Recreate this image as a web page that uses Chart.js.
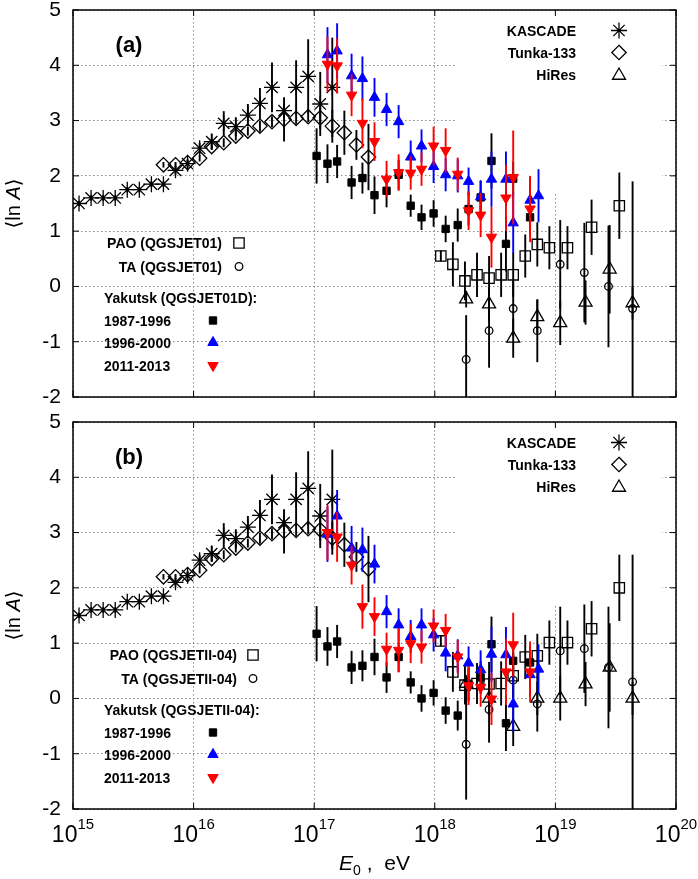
<!DOCTYPE html>
<html>
<head>
<meta charset="utf-8">
<script src="https://cdn.jsdelivr.net/npm/chart.js@4.4.1/dist/chart.umd.min.js"></script>
<style>
  html, body { margin: 0; padding: 0; background: #fff; }
  #wrap { position: relative; width: 698px; height: 879px; }
  canvas { position: absolute; left: 0; }
</style>
</head>
<body>
<div id="wrap">
  <canvas id="panelA" width="698" height="412" style="top:0px"></canvas>
  <canvas id="panelB" width="698" height="467" style="top:412px"></canvas>
</div>
<script>
// ---- axes ----
const xTickValues = [1e15, 1e16, 1e17, 1e18, 1e19, 1e20];
const xTickPowers = ['15', '16', '17', '18', '19', '20'];
const yTickValues = [-2, -1, 0, 1, 2, 3, 4, 5];

// ---- KASCADE and Tunka-133 (same in both panels), x = lg(E0/eV) ----
const kascadeLgE = [15.05, 15.15, 15.25, 15.35, 15.45, 15.55, 15.65, 15.75, 15.85, 15.95, 16.05,
                    16.15, 16.25, 16.35, 16.45, 16.55, 16.65, 16.75, 16.85, 16.95, 17.05, 17.15];
const kascadeLnA = [1.5, 1.6, 1.6, 1.6, 1.75, 1.75, 1.85, 1.85, 2.1, 2.22, 2.5,
                    2.62, 2.95, 2.89, 3.1, 3.31, 3.6, 3.18, 3.6, 3.8, 3.3, 3.6];
const kascadeErr = [0.05, 0.05, 0.05, 0.05, 0.05, 0.05, 0.05, 0.05, 0.08, 0.08, 0.1,
                    0.14, 0.22, 0.17, 0.2, 0.28, 0.45, 0.12, 0.49, 0.67, 0.58, 0.9];

const tunkaLgE = [15.75, 15.85, 15.95, 16.05, 16.15, 16.25, 16.35, 16.45, 16.55,
                  16.65, 16.75, 16.85, 16.95, 17.05, 17.15, 17.25, 17.35, 17.45];
const tunkaLnA = [2.2, 2.2, 2.24, 2.32, 2.53, 2.6, 2.72, 2.81, 2.9,
                  2.98, 3.02, 3.04, 3.07, 3.05, 2.9, 2.78, 2.56, 2.34];
const tunkaErr = [0.05, 0.05, 0.05, 0.06, 0.06, 0.08, 0.08, 0.08, 0.1,
                  0.1, 0.4, 0.1, 0.1, 0.2, 0.3, 0.4, 0.27, 0.6];

// ---- Yakutsk energies ----
const yak1LgE = [17.02, 17.11, 17.19, 17.31, 17.40, 17.50, 17.60, 17.70, 17.80, 17.89,
                 17.99, 18.09, 18.19, 18.28, 18.38, 18.47, 18.59, 18.65, 18.79];
const yak2LgE = [17.11, 17.19, 17.31, 17.40, 17.50, 17.60, 17.70, 17.80, 17.89, 17.99,
                 18.09, 18.19, 18.28, 18.38, 18.47, 18.59, 18.65, 18.79, 18.86];
const yak3LgE = [17.11, 17.19, 17.31, 17.40, 17.50, 17.60, 17.70, 17.80, 17.89, 17.99,
                 18.09, 18.19, 18.28, 18.38, 18.47, 18.59, 18.65, 18.79];

// ---- PAO, TA, HiRes energies ----
const paoLgE = [18.05, 18.15, 18.25, 18.35, 18.45, 18.55, 18.65, 18.75, 18.85, 18.95, 19.1, 19.3, 19.53];
const taLgE = [18.26, 18.45, 18.65, 18.85, 19.04, 19.24, 19.44, 19.64];
const hiresLgE = [18.26, 18.45, 18.65, 18.85, 19.04, 19.25, 19.45, 19.64];

// ---- panel (a): QGSJET01 ----
const yak1A = [2.36, 2.22, 2.26, 1.88, 1.96, 1.65, 1.73, 2.02, 1.46, 1.25,
               1.32, 1.04, 1.11, 1.40, 1.61, 2.27, 0.77, 1.95, 1.25];
const yak1AErr = [0.5, 0.35, 0.3, 0.3, 0.28, 0.34, 0.3, 0.27, 0.2, 0.23,
                  0.24, 0.24, 0.3, 0.3, 0.3, 0.5, 0.5, 0.3, 0.3];
const yak2A = [4.19, 4.26, 3.81, 3.76, 3.42, 3.2, 2.98, 2.34, 2.54, 2.17,
               2.02, 2.0, 1.9, 1.62, 1.94, 1.94, 1.15, 1.56, 1.64];
const yak2AErr = [0.5, 0.5, 0.4, 0.4, 0.35, 0.3, 0.3, 0.3, 0.3, 0.3,
                  0.3, 0.3, 0.25, 0.3, 0.5, 0.5, 0.55, 0.4, 0.48];
const yak3A = [4.02, 3.99, 3.46, 2.95, 2.62, 1.94, 2.06, 2.05, 2.12, 2.54,
               2.46, 2.03, 1.37, 1.29, 0.89, 1.6, 1.97, 1.4];
const yak3AErr = [0.5, 0.5, 0.38, 0.45, 0.35, 0.33, 0.33, 0.3, 0.3, 0.35,
                  0.4, 0.3, 0.35, 0.4, 0.55, 0.6, 0.85, 0.6];
const paoA = [0.55, 0.40, 0.10, 0.21, 0.15, 0.21, 0.21, 0.55, 0.76, 0.70, 0.70, 1.07, 1.46];
const paoAErr = [0.1, 0.4, 0.35, 0.4, 0.4, 0.4, 0.4, 0.39, 0.4, 0.39, 0.39, 0.5, 0.6];
const taA = [-1.32, -0.80, -0.40, -0.80, 0.40, 0.25, 0.0, -0.40];
const taAErr = [0.8, 0.67, 0.5, 0.57, 0.8, 0.9, 1.1, 2.3];
const hiresA = [-0.23, -0.32, -0.94, -0.55, -0.66, -0.29, 0.31, -0.30];
const hiresAErr = [0.15, 0.3, 0.35, 0.3, 0.4, 0.4, 0.8, 0.3];

// ---- panel (b): QGSJETII-04 ----
const yak1B = [1.17, 0.94, 1.03, 0.56, 0.59, 0.75, 0.38, 0.75, 0.29, 0.0,
               0.10, -0.22, -0.31, 0.25, 0.38, 0.98, -0.45, 0.68, 0.65];
const yak1BErr = [0.5, 0.35, 0.3, 0.3, 0.28, 0.33, 0.28, 0.27, 0.2, 0.24,
                  0.23, 0.24, 0.27, 0.3, 0.3, 0.5, 0.5, 0.3, 0.3];
const yak2B = [2.97, 3.30, 2.72, 2.69, 2.43, 1.57, 1.33, 1.12, 1.33, 1.15,
               0.82, 0.77, 0.64, 0.52, 0.80, 0.79, -0.10, 0.43, 0.53];
const yak2BErr = [0.5, 0.47, 0.4, 0.4, 0.35, 0.3, 0.3, 0.3, 0.3, 0.3,
                  0.33, 0.3, 0.3, 0.35, 0.5, 0.5, 0.5, 0.4, 0.45];
const yak3B = [3.0, 2.92, 2.41, 1.66, 1.48, 0.89, 0.87, 0.99, 0.93, 1.31,
               1.23, 0.75, 0.23, 0.20, -0.01, 0.48, 0.97, 0.48];
const yak3BErr = [0.5, 0.45, 0.35, 0.4, 0.35, 0.3, 0.4, 0.35, 0.3, 0.3,
                  0.3, 0.3, 0.35, 0.35, 0.47, 0.6, 0.58, 0.55];
const paoB = [1.04, 0.48, 0.24, 0.27, 0.26, 0.27, 0.41, 0.75, 0.77, 1.01, 1.01, 1.26, 2.0];
const paoBErr = [0.1, 0.36, 0.35, 0.37, 0.4, 0.4, 0.4, 0.4, 0.4, 0.4, 0.4, 0.5, 0.6];
const taB = [-0.83, -0.2, 0.33, -0.1, 0.86, 0.9, 0.56, 0.30];
const taBErr = [1.0, 0.6, 0.5, 0.5, 0.8, 0.8, 1.1, 2.3];
const hiresB = [0.27, 0.0, -0.51, 0.0, 0.0, 0.26, 0.56, 0.0];
const hiresBErr = [0.15, 0.3, 0.35, 0.3, 0.4, 0.4, 0.8, 0.3];

// ---- styles ----
const FONT = '"Liberation Sans", Arial, Helvetica, sans-serif';
const BLUE = '#0000ff';
const RED = '#ff0000';
const NONE = 'rgba(0,0,0,0)';

const styles = {
  kascade: { pointStyle: 'star', pointRadius: 8, pointBorderWidth: 1.3, pointBorderColor: '#000', pointBackgroundColor: NONE, barColor: '#000' },
  tunka: { pointStyle: 'rectRot', pointRadius: 7.2, pointBorderWidth: 1.3, pointBorderColor: '#000', pointBackgroundColor: NONE, barColor: '#000' },
  hires: { pointStyle: 'triangle', pointRadius: 7.5, pointBorderWidth: 1.3, pointBorderColor: '#000', pointBackgroundColor: NONE, barColor: '#000' },
  pao: { pointStyle: 'rect', pointRadius: 7.3, pointBorderWidth: 1.3, pointBorderColor: '#000', pointBackgroundColor: NONE, barColor: '#000' },
  ta: { pointStyle: 'circle', pointRadius: 3.8, pointBorderWidth: 1.3, pointBorderColor: '#000', pointBackgroundColor: NONE, barColor: '#000' },
  yak1: { pointStyle: 'rect', pointRadius: 5.2, pointBorderWidth: 1, pointBorderColor: '#000', pointBackgroundColor: '#000', barColor: '#000' },
  yak2: { pointStyle: 'triangle', pointRadius: 6, pointBorderWidth: 1, pointBorderColor: BLUE, pointBackgroundColor: BLUE, barColor: BLUE },
  yak3: { pointStyle: 'triangle', pointRotation: 180, pointRadius: 6, pointBorderWidth: 1, pointBorderColor: RED, pointBackgroundColor: RED, barColor: RED }
};

Chart.defaults.font.family = FONT;
Chart.defaults.color = '#000';

function series(label, lgE, vals, errs, style) {
  return Object.assign({
    label,
    data: lgE.map((l, i) => ({ x: Math.pow(10, l), y: vals[i] })),
    errors: errs,
    showLine: false,
    pointHitRadius: 0
  }, style);
}

// vertical error bars, drawn just before each dataset's markers
const errorBars = {
  id: 'errorBars',
  beforeDatasetDraw(chart, args) {
    const ds = chart.data.datasets[args.index];
    if (!ds.errors) return;
    const { ctx, chartArea: a, scales } = chart;
    ctx.save();
    ctx.beginPath();
    ctx.rect(a.left, a.top, a.right - a.left, a.bottom - a.top);
    ctx.clip();
    ctx.strokeStyle = ds.barColor;
    ctx.lineWidth = 1.9;
    ds.data.forEach((p, i) => {
      const x = scales.x.getPixelForValue(p.x);
      ctx.beginPath();
      ctx.moveTo(x, scales.y.getPixelForValue(p.y - ds.errors[i]));
      ctx.lineTo(x, scales.y.getPixelForValue(p.y + ds.errors[i]));
      ctx.stroke();
    });
    ctx.restore();
  }
};

function drawMarker(ctx, st, x, y) {
  const r = st.pointRadius;
  const rot = (st.pointRotation || 0) * Math.PI / 180;
  ctx.save();
  ctx.strokeStyle = st.pointBorderColor;
  ctx.fillStyle = st.pointBackgroundColor;
  ctx.lineWidth = st.pointBorderWidth;
  ctx.beginPath();
  if (st.pointStyle === 'circle') {
    ctx.arc(x, y, r, 0, 2 * Math.PI);
  } else if (st.pointStyle === 'rect') {
    const s = r * Math.SQRT1_2;
    ctx.rect(x - s, y - s, 2 * s, 2 * s);
  } else if (st.pointStyle === 'rectRot') {
    ctx.moveTo(x, y - r); ctx.lineTo(x + r, y); ctx.lineTo(x, y + r); ctx.lineTo(x - r, y); ctx.closePath();
  } else if (st.pointStyle === 'triangle') {
    for (let k = 0; k < 3; k++) {
      const ang = rot + k * 2 * Math.PI / 3;
      const px = x + Math.sin(ang) * r, py = y - Math.cos(ang) * r;
      if (k === 0) ctx.moveTo(px, py); else ctx.lineTo(px, py);
    }
    ctx.closePath();
  } else if (st.pointStyle === 'star') {
    for (let k = 0; k < 4; k++) {
      const ang = k * Math.PI / 4;
      ctx.moveTo(x - Math.cos(ang) * r, y - Math.sin(ang) * r);
      ctx.lineTo(x + Math.cos(ang) * r, y + Math.sin(ang) * r);
    }
  }
  if (st.pointStyle !== 'star') ctx.fill();
  ctx.stroke();
  ctx.restore();
}

// frame, inward ticks, keys, labels
function makeDecor(p) {
  return {
    id: 'decor',
    beforeDatasetsDraw(chart) {
      // gnuplot key box hides the grid behind the right-hand key
      const { ctx, chartArea: a } = chart;
      ctx.save();
      ctx.fillStyle = '#fff';
      ctx.fillRect(457, a.top + 1, 205, 183);
      ctx.restore();
    },
    afterDraw(chart) {
      const { ctx, chartArea: a, scales } = chart;
      ctx.save();
      // frame
      ctx.strokeStyle = '#000';
      ctx.lineWidth = 1.5;
      ctx.strokeRect(a.left, a.top, a.right - a.left, a.bottom - a.top);
      // inward ticks on all four sides
      ctx.lineWidth = 1;
      ctx.beginPath();
      xTickValues.forEach(v => {
        const x = scales.x.getPixelForValue(v);
        ctx.moveTo(x, a.top); ctx.lineTo(x, a.top + 6);
        ctx.moveTo(x, a.bottom); ctx.lineTo(x, a.bottom - 6);
      });
      yTickValues.forEach(v => {
        const y = scales.y.getPixelForValue(v);
        ctx.moveTo(a.left, y); ctx.lineTo(a.left + 6, y);
        ctx.moveTo(a.right, y); ctx.lineTo(a.right - 6, y);
      });
      ctx.stroke();

      ctx.fillStyle = '#000';
      // panel label
      ctx.font = `bold 22px ${FONT}`;
      ctx.textAlign = 'center';
      ctx.textBaseline = 'alphabetic';
      ctx.fillText(p.tag, 129, a.top + 41.5);

      // y title <ln A>
      const cy = (a.top + a.bottom) / 2;
      ctx.save();
      ctx.translate(20, cy);
      ctx.rotate(-Math.PI / 2);
      ctx.textAlign = 'left';
      const fReg = `20px ${FONT}, "DejaVu Sans"`;
      const fIt = `italic 20px ${FONT}, "DejaVu Sans"`;
      ctx.font = fReg; const w1 = ctx.measureText('\u27E8ln ').width;
      ctx.font = fIt; const w2 = ctx.measureText('A').width;
      ctx.font = fReg; const w3 = ctx.measureText('\u27E9').width;
      let tx = -(w1 + w2 + w3) / 2;
      ctx.font = fReg; ctx.fillText('\u27E8ln ', tx, 0); tx += w1;
      ctx.font = fIt; ctx.fillText('A', tx, 0); tx += w2;
      ctx.font = fReg; ctx.fillText('\u27E9', tx, 0);
      ctx.restore();

      // right key
      ctx.font = `bold 14px ${FONT}`;
      ctx.textAlign = 'right';
      const rightKey = [['KASCADE', styles.kascade], ['Tunka-133', styles.tunka], ['HiRes', styles.hires]];
      rightKey.forEach(([txt, st], i) => {
        const y = a.top + 20.5 + i * 22;
        ctx.fillText(txt, 576, y + 5);
        drawMarker(ctx, st, 619, st === styles.hires ? y + 1 : y);
      });

      // left key
      ctx.textAlign = 'right';
      ctx.fillText(p.paoLabel, p.expEnd, a.top + 237.5);
      drawMarker(ctx, styles.pao, p.expSym, a.top + 233);
      ctx.fillText(p.taLabel, p.expEnd, a.top + 261.5);
      drawMarker(ctx, styles.ta, p.expSym, a.top + 256.5);
      ctx.textAlign = 'left';
      ctx.fillText(p.yakLabel, 104, a.top + 293);
      const yakKey = [['1987-1996', styles.yak1, 316], ['1996-2000', styles.yak2, 338], ['2011-2013', styles.yak3, 361]];
      yakKey.forEach(([txt, st, yy]) => {
        ctx.fillText(txt, 104, a.top + yy);
        drawMarker(ctx, st, 213, a.top + yy - 5.5);
      });

      // x tick labels and title (bottom panel only)
      if (p.xLabels) {
        ctx.textAlign = 'left';
        xTickValues.forEach((v, i) => {
          const x = scales.x.getPixelForValue(v);
          ctx.font = `23px ${FONT}`;
          const wb = ctx.measureText('10').width;
          ctx.font = `15px ${FONT}`;
          const ws = ctx.measureText(xTickPowers[i]).width;
          const x0 = x - (wb + ws) / 2;
          ctx.font = `23px ${FONT}`;
          ctx.fillText('10', x0, a.bottom + 33);
          ctx.font = `15px ${FONT}`;
          ctx.fillText(xTickPowers[i], x0 + wb, a.bottom + 20);
        });
        const cx = (a.left + a.right) / 2;
        const fE = `italic 21px ${FONT}`, fS = `14px ${FONT}`, fR = `21px ${FONT}`;
        ctx.font = fE; const we = ctx.measureText('E').width;
        ctx.font = fS; const ws0 = ctx.measureText('0').width;
        ctx.font = fR; const wr = ctx.measureText(' ,  eV').width;
        let ex = cx - (we + ws0 + wr) / 2;
        const by = a.bottom + 61;
        ctx.font = fE; ctx.fillText('E', ex, by); ex += we;
        ctx.font = fS; ctx.fillText('0', ex, by + 5); ex += ws0;
        ctx.font = fR; ctx.fillText(' ,  eV', ex, by);
      }
      ctx.restore();
    }
  };
}

function buildPanel(id, p) {
  const datasets = [
    series('2011-2013', yak3LgE, p.yak3, p.yak3Err, styles.yak3),
    series('1996-2000', yak2LgE, p.yak2, p.yak2Err, styles.yak2),
    series('1987-1996', yak1LgE, p.yak1, p.yak1Err, styles.yak1),
    series('TA', taLgE, p.ta, p.taErr, styles.ta),
    series('PAO', paoLgE, p.pao, p.paoErr, styles.pao),
    series('HiRes', hiresLgE, p.hires, p.hiresErr, styles.hires),
    series('Tunka-133', tunkaLgE, tunkaLnA, tunkaErr, styles.tunka),
    series('KASCADE', kascadeLgE, kascadeLnA, kascadeErr, styles.kascade)
  ];
  const gridStyle = { color: '#8a8a8a', lineWidth: 1, drawTicks: false };
  const borderStyle = { display: false, dash: [1.5, 2.5] };
  const noPad = s => { s.paddingTop = 0; s.paddingBottom = 0; s.paddingLeft = 0; s.paddingRight = 0; };
  return new Chart(document.getElementById(id), {
    type: 'scatter',
    data: { datasets },
    options: {
      responsive: false,
      animation: false,
      events: [],
      layout: { padding: { left: 0, right: 22, top: 10, bottom: p.padBottom } },
      plugins: { legend: { display: false }, tooltip: { enabled: false } },
      scales: {
        x: {
          type: 'logarithmic',
          min: 1e15,
          max: 1e20,
          afterBuildTicks: s => { s.ticks = xTickValues.map(v => ({ value: v })); },
          ticks: { display: false },
          grid: gridStyle,
          border: borderStyle,
          afterFit: s => { s.height = 0; noPad(s); }
        },
        y: {
          min: -2,
          max: 5,
          afterBuildTicks: s => { s.ticks = yTickValues.map(v => ({ value: v })); },
          ticks: { font: { size: 21 }, color: '#000', padding: 12 },
          grid: gridStyle,
          border: borderStyle,
          afterFit: s => { s.width = 73; noPad(s); }
        }
      }
    },
    plugins: [errorBars, makeDecor(p)]
  });
}

buildPanel('panelA', {
  tag: '(a)', xLabels: false, padBottom: 15,
  paoLabel: 'PAO (QGSJET01)', taLabel: 'TA (QGSJET01)', yakLabel: 'Yakutsk (QGSJET01D):',
  expEnd: 222, expSym: 239,
  yak1: yak1A, yak1Err: yak1AErr, yak2: yak2A, yak2Err: yak2AErr, yak3: yak3A, yak3Err: yak3AErr,
  pao: paoA, paoErr: paoAErr, ta: taA, taErr: taAErr, hires: hiresA, hiresErr: hiresAErr
});

buildPanel('panelB', {
  tag: '(b)', xLabels: true, padBottom: 70,
  paoLabel: 'PAO (QGSJETII-04)', taLabel: 'TA (QGSJETII-04)', yakLabel: 'Yakutsk (QGSJETII-04):',
  expEnd: 237, expSym: 253,
  yak1: yak1B, yak1Err: yak1BErr, yak2: yak2B, yak2Err: yak2BErr, yak3: yak3B, yak3Err: yak3BErr,
  pao: paoB, paoErr: paoBErr, ta: taB, taErr: taBErr, hires: hiresB, hiresErr: hiresBErr
});
</script>
</body>
</html>
